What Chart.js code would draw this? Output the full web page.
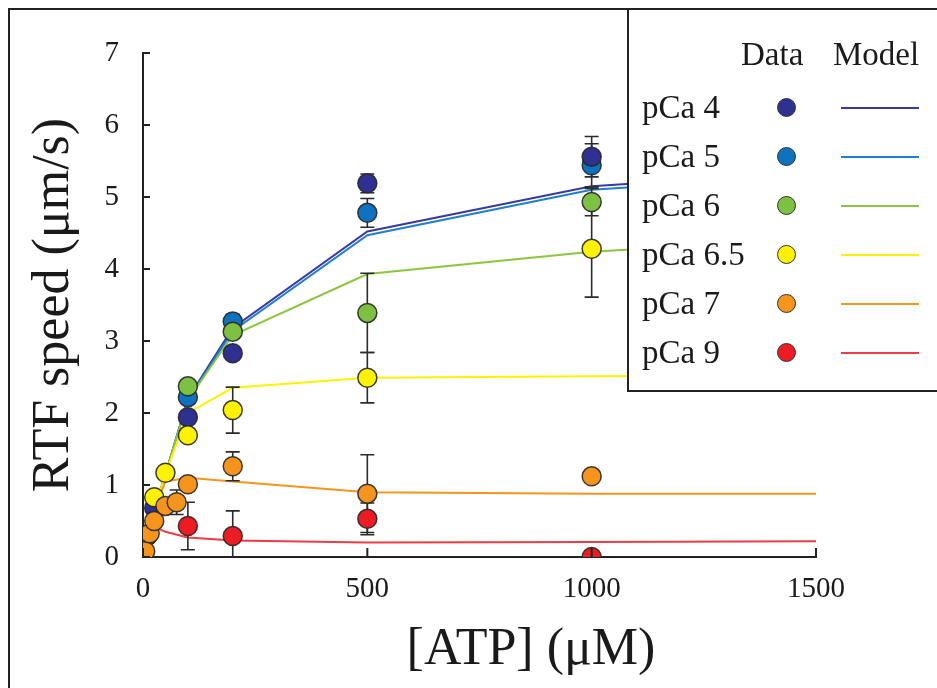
<!DOCTYPE html>
<html>
<head>
<meta charset="utf-8">
<script src="https://cdn.jsdelivr.net/npm/chart.js@4/dist/chart.umd.min.js"></script>
<style>
  html, body { margin: 0; padding: 0; background: #fff; overflow: hidden; }
  #wrap { position: relative; width: 937px; height: 688px; }
  #chart { position: absolute; left: 0; top: 0; }
  .frame { position: absolute; left: 8px; top: 8px; width: 960px; height: 700px;
           border-left: 2px solid #222; border-top: 2px solid #222; pointer-events: none; }
  .serif { font-family: "Liberation Serif", "Times New Roman", serif; color: #1a1a1a; }
  #xTitle { position: absolute; top: 612px; left: 531px; transform: translateX(-50%);
            font-size: 52px; line-height: 70px; white-space: nowrap; }
  #legend { position: absolute; left: 627px; top: 8px; width: 330px; height: 380px;
            border: 2px solid #222; background: #fff; }
  .lg-text { position: absolute; font-size: 33px; line-height: 40px; white-space: nowrap; }
  .lg-dot { position: absolute; width: 17px; height: 17px; border-radius: 50%;
            border: 1.5px solid #333; }
  .lg-line { position: absolute; height: 2px; width: 78px; }
</style>
</head>
<body>
<div id="wrap">
  <canvas id="chart" width="937" height="688"></canvas>
  <div class="frame"></div>
  <div id="xTitle" class="serif">[ATP] (μM)</div>
  <div id="legend"></div>
  <div id="legendItems" class="serif"></div>
</div>
<script>
// ---- data ----
const seriesNames = ["pCa 4", "pCa 5", "pCa 6", "pCa 6.5", "pCa 7", "pCa 9"];
const markerColors = ["#2e3192", "#0f72bf", "#7cc142", "#fff200", "#f7941d", "#ed1c24"];
const lineColors = ["#3a3a9e", "#1f7fcf", "#8cc63f", "#fff200", "#f7941d", "#ef3b45"];

const atpPCa4 = [0, 10, 25, 100, 200, 500, 1000];
const speedPCa4 = [0, 0.3, 0.68, 1.94, 2.83, 5.19, 5.56];
const errPCa4 = [0, 0, 0, 0, 0, 0.13, 0.28];

const atpPCa5 = [0, 10, 100, 200, 500, 1000];
const speedPCa5 = [0, 0.3, 2.22, 3.27, 4.78, 5.44];
const errPCa5 = [0, 0, 0, 0.1, 0.2, 0.3];

const atpPCa6 = [0, 10, 100, 200, 500, 1000];
const speedPCa6 = [0, 0.3, 2.37, 3.13, 3.39, 4.93];
const errPCa6 = [0, 0, 0, 0, 0.55, 0.19];

const atpPCa65 = [0, 10, 25, 50, 100, 200, 500, 1000];
const speedPCa65 = [0, 0.3, 0.83, 1.17, 1.69, 2.04, 2.49, 4.28];
const errPCa65 = [0, 0, 0, 0, 0, 0.32, 0.35, 0.67];

const atpPCa7 = [0, 5, 15, 25, 50, 75, 100, 200, 500, 1000];
const speedPCa7 = [0, 0.08, 0.33, 0.5, 0.71, 0.76, 1.01, 1.26, 0.88, 1.12];
const errPCa7 = [0, 0, 0, 0, 0, 0.17, 0, 0.2, 0.54, 0];

const atpPCa9 = [0, 100, 200, 500, 1000];
const speedPCa9 = [0.03, 0.43, 0.29, 0.53, 0];
const errPCa9 = [0, 0.33, 0.35, 0.22, 0];

// model curves
const atpModel = [0, 10, 25, 50, 100, 200, 500, 1000, 1500];
const modelPCa4 = [0, 0.3, 0.65, 1.15, 2.2, 3.18, 4.52, 5.15, 5.35];
const modelPCa5 = [0, 0.3, 0.65, 1.15, 2.18, 3.14, 4.47, 5.1, 5.3];
const modelPCa6 = [0, 0.3, 0.65, 1.15, 2.18, 3.08, 3.93, 4.24, 4.42];
const modelPCa65 = [0, 0.3, 0.65, 1.15, 2.0, 2.35, 2.49, 2.51, 2.52];
const modelPCa7 = [0, 0.3, 0.65, 1.05, 1.1, 1.05, 0.9, 0.88, 0.88];
const modelPCa9 = [0, 0.3, 0.42, 0.35, 0.27, 0.23, 0.2, 0.21, 0.22];

const xTicks = [0, 500, 1000, 1500];
const yTicks = [0, 1, 2, 3, 4, 5, 6, 7];

const SERIF = '"Liberation Serif", "Times New Roman", serif';

function pts(xs, ys) {
  return xs.map((x, i) => ({ x: x, y: ys[i] }));
}

// order: lower number ends up on top
const dataSets = [
  { x: atpPCa4, y: speedPCa4, err: errPCa4, model: modelPCa4, order: 5 },
  { x: atpPCa5, y: speedPCa5, err: errPCa5, model: modelPCa5, order: 6 },
  { x: atpPCa6, y: speedPCa6, err: errPCa6, model: modelPCa6, order: 4 },
  { x: atpPCa65, y: speedPCa65, err: errPCa65, model: modelPCa65, order: 3 },
  { x: atpPCa7, y: speedPCa7, err: errPCa7, model: modelPCa7, order: 1 },
  { x: atpPCa9, y: speedPCa9, err: errPCa9, model: modelPCa9, order: 2 },
];

const datasets = [];
// model lines (underneath the markers)
dataSets.forEach((s, i) => {
  datasets.push({
    type: "line",
    label: seriesNames[i] + " model",
    data: pts(atpModel, s.model),
    borderColor: lineColors[i],
    borderWidth: 2,
    pointRadius: 0,
    tension: 0,
    fill: false,
    order: 20 + (6 - i),
  });
});
// data markers
dataSets.forEach((s, i) => {
  datasets.push({
    type: "scatter",
    label: seriesNames[i],
    data: pts(s.x, s.y),
    errors: s.err,
    backgroundColor: markerColors[i],
    borderColor: "rgba(40,40,40,0.9)",
    borderWidth: 1.5,
    pointRadius: 9.5,
    order: s.order,
  });
});

// error bars, drawn once just before the first marker set
let errorsDrawn = false;
const errorBars = {
  id: "errorBars",
  beforeDatasetsDraw() {
    errorsDrawn = false;
  },
  beforeDatasetDraw(chart, args) {
    if (errorsDrawn || args.meta.type !== "scatter") return;
    errorsDrawn = true;
    const { ctx, chartArea, scales } = chart;
    ctx.save();
    ctx.beginPath();
    ctx.rect(chartArea.left, chartArea.top, chartArea.right - chartArea.left, chartArea.bottom - chartArea.top);
    ctx.clip();
    ctx.strokeStyle = "#2b2b2b";
    ctx.lineWidth = 1.6;
    chart.data.datasets.forEach((ds) => {
      if (!ds.errors) return;
      ds.data.forEach((p, j) => {
        const e = ds.errors[j];
        if (!e) return;
        const x = scales.x.getPixelForValue(p.x);
        const yTop = scales.y.getPixelForValue(p.y + e);
        const yBot = scales.y.getPixelForValue(p.y - e);
        ctx.beginPath();
        ctx.moveTo(x, yTop);
        ctx.lineTo(x, yBot);
        ctx.moveTo(x - 7, yTop);
        ctx.lineTo(x + 7, yTop);
        ctx.moveTo(x - 7, yBot);
        ctx.lineTo(x + 7, yBot);
        ctx.stroke();
      });
    });
    ctx.restore();
  },
};

// inward tick marks
const inwardTicks = {
  id: "inwardTicks",
  afterDraw(chart) {
    const { ctx, chartArea, scales } = chart;
    ctx.save();
    ctx.strokeStyle = "#222";
    ctx.lineWidth = 2;
    ctx.beginPath();
    xTicks.forEach((v) => {
      const x = scales.x.getPixelForValue(v);
      ctx.moveTo(x, chartArea.bottom);
      ctx.lineTo(x, chartArea.bottom - 9);
    });
    yTicks.forEach((v) => {
      const y = scales.y.getPixelForValue(v);
      ctx.moveTo(chartArea.left, y);
      ctx.lineTo(chartArea.left + 7, y);
    });
    ctx.stroke();
    ctx.restore();
  },
};

new Chart(document.getElementById("chart"), {
  type: "scatter",
  data: { datasets },
  options: {
    responsive: false,
    animation: false,
    events: [],
    layout: { padding: { top: 53, right: 121, left: 0, bottom: 0 } },
    plugins: { legend: { display: false }, tooltip: { enabled: false } },
    scales: {
      x: {
        type: "linear",
        min: 0,
        max: 1500,
        afterFit: (s) => { s.height = 131; },
        afterBuildTicks: (s) => { s.ticks = xTicks.map((v) => ({ value: v })); },
        ticks: {
          color: "#1a1a1a",
          font: { family: SERIF, size: 29 },
          padding: 15,
          maxRotation: 0,
          callback: (v) => String(v),
        },
        grid: { display: false, drawTicks: false },
        border: { display: true, color: "#222", width: 2 },
      },
      y: {
        min: 0,
        max: 7,
        afterFit: (s) => { s.width = 143; },
        afterBuildTicks: (s) => { s.ticks = yTicks.map((v) => ({ value: v })); },
        ticks: { color: "#1a1a1a", font: { family: SERIF, size: 29 }, padding: 24, callback: (v) => String(v) },
        grid: { display: false, drawTicks: false },
        border: { display: true, color: "#222", width: 2 },
        title: {
          display: true,
          text: "RTF speed (μm/s)",
          color: "#1a1a1a",
          font: { family: SERIF, size: 52, lineHeight: 1 },
          padding: { top: 28, bottom: 0 },
        },
      },
    },
  },
  plugins: [errorBars, inwardTicks],
});

// ---- legend box (Data / Model) ----
const legendItems = document.getElementById("legendItems");
const rowY = [108, 157, 206, 255, 304, 353];
function addText(txt, left, cy) {
  const el = document.createElement("div");
  el.className = "lg-text";
  el.textContent = txt;
  el.style.left = left + "px";
  el.style.top = (cy - 21) + "px";
  legendItems.appendChild(el);
}
addText("Data", 741, 55);
addText("Model", 833, 55);
seriesNames.forEach((name, i) => {
  const cy = rowY[i];
  addText(name, 642, cy);
  const dot = document.createElement("div");
  dot.className = "lg-dot";
  dot.style.background = markerColors[i];
  dot.style.left = (787 - 10) + "px";
  dot.style.top = (cy - 10) + "px";
  legendItems.appendChild(dot);
  const ln = document.createElement("div");
  ln.className = "lg-line";
  ln.style.background = lineColors[i];
  ln.style.left = "841px";
  ln.style.top = (cy - 1) + "px";
  legendItems.appendChild(ln);
});
</script>
</body>
</html>
